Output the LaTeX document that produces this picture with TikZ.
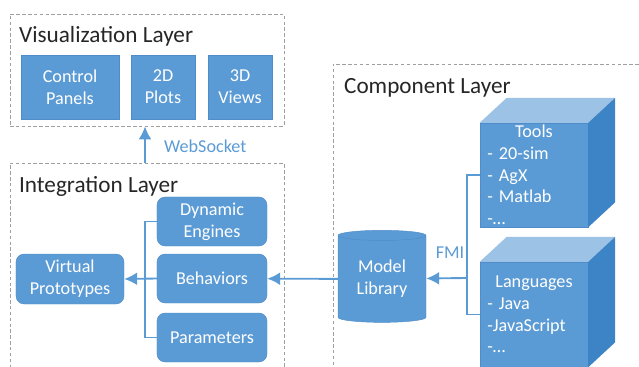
\documentclass[tikz,border=0pt]{standalone}
\usepackage{fontspec}
\setmainfont{Carlito}
\usepackage{tikz}
\usetikzlibrary{arrows.meta,positioning,shapes.geometric,calc}
\definecolor{vblue}{HTML}{5B9BD5}
\definecolor{vedge}{HTML}{4F8CC9}
\definecolor{vtop}{HTML}{9CC2E5}
\definecolor{vside}{HTML}{3D84C6}
\tikzset{
  vlayer/.style={draw=gray!75, dash pattern=on 3pt off 2pt, line width=0.7pt, inner sep=0pt},
  vtitle/.style={anchor=west, font=\fontsize{19.8}{23}\selectfont, text=black!85},
  vflat/.style={fill=vblue, draw=vedge, line width=0.4pt, align=center, text=white, inner sep=0pt, font=\fontsize{15.5}{18.8}\selectfont},
  vround/.style={vflat, rounded corners=7pt},
  vfront/.style={fill=vblue, draw=vedge, line width=0.4pt, align=left, text=white, text width=2.8cm, minimum width=3.24cm, inner sep=0pt, font=\fontsize{15.5}{18.5}\selectfont},
  vstore/.style={cylinder, shape border rotate=90, aspect=0.2, fill=vblue, draw=vedge, line width=0.4pt, align=center, text=white, minimum width=2.64cm, minimum height=2.76cm, inner sep=0pt, font=\fontsize{15.5}{18.8}\selectfont},
  vlabel/.style={font=\fontsize{15.5}{18.8}\selectfont, text=vblue},
  varrow/.style={-{Latex[length=11pt,width=11pt]}, draw=vblue, line width=1.6pt},
  vlink/.style={draw=vblue, line width=1.6pt}
}

\begin{document}
\begin{tikzpicture}[x=0.03cm,y=-0.03cm]
\useasboundingbox (0,0) rectangle (639,367);
\clip (0,0) rectangle (639,367);

% layers
\node[vlayer, minimum width=8.22cm, minimum height=3.36cm] (vislayer) at (147,70) {};
\node[vlayer, minimum width=8.22cm, minimum height=6.51cm] (intlayer) at (147,271.5) {};
\node[vlayer, minimum width=9.51cm, minimum height=9.48cm] (complayer) at (491.5,222) {};
\node[vtitle] (vistitle) at (15,36) {Visualization Layer};
\node[vtitle] (inttitle) at (15,186) {Integration Layer};
\node[vtitle] (comptitle) at (340,88) {Component Layer};

% visualization
\node[vflat, minimum width=2.94cm, minimum height=1.92cm] (ctrl) at (70,87) {Control\\Panels};
\node[vflat, minimum width=1.92cm, minimum height=1.92cm] (plot) at (163,87) {2D\\Plots};
\node[vflat, minimum width=1.92cm, minimum height=1.92cm] (view) at (240,87) {3D\\Views};

\coordinate (ws) at (145,163);
\draw[varrow] (ws) -- (ws |- vislayer.south);
\node[vlabel, anchor=west] (wslabel) at (160,146) {WebSocket};

% integration
\node[vround, minimum width=3.24cm, minimum height=1.5cm] (proto) at (70,279) {Virtual\\Prototypes};
\node[vround, minimum width=3.3cm, minimum height=1.47cm] (engine) at (212,221.5) {Dynamic\\Engines};
\node[vround, minimum width=3.3cm, minimum height=1.47cm] (behav) at (212,278.5) {Behaviors};
\node[vround, minimum width=3.3cm, minimum height=1.47cm] (param) at (212,337.5) {Parameters};

\draw[vlink] (engine.west) -- ++(-12,0) |- (param.west);
\draw[varrow] (behav.west) -- (proto.east);

% component
\node[vstore] (lib) at (382,279) {Model\\Library};
\draw[varrow] (lib) -- (behav);

\node[vfront, minimum height=3.12cm] (tools) at (534,175) {\hfill Tools\hfill\null\\- 20-sim\\- AgX\\- Matlab\\-\ldots};
\node[vfront, minimum height=3.15cm] (lang) at (534,314.5) {\hfill Languages\hfill\null\\- Java\\-JavaScript\\-\ldots};
\foreach \c in {tools,lang}{
  \fill[vtop] (\c.north west) -- ++(27,-25) -- ($(\c.north east)+(27,-25)$) -- (\c.north east) -- cycle;
  \fill[vside] (\c.north east) -- ++(27,-25) -- ($(\c.south east)+(27,-25)$) -- (\c.south east) -- cycle;
}

\coordinate (fmi) at (467,278);
\draw[vlink] (tools.west) -- (fmi |- tools.west) -- (fmi |- lang.west) -- (lang.west);
\draw[varrow] (fmi) -- (lib);
\node[vlabel] (fmilabel) at (450,253) {FMI};
\end{tikzpicture}
\end{document}
